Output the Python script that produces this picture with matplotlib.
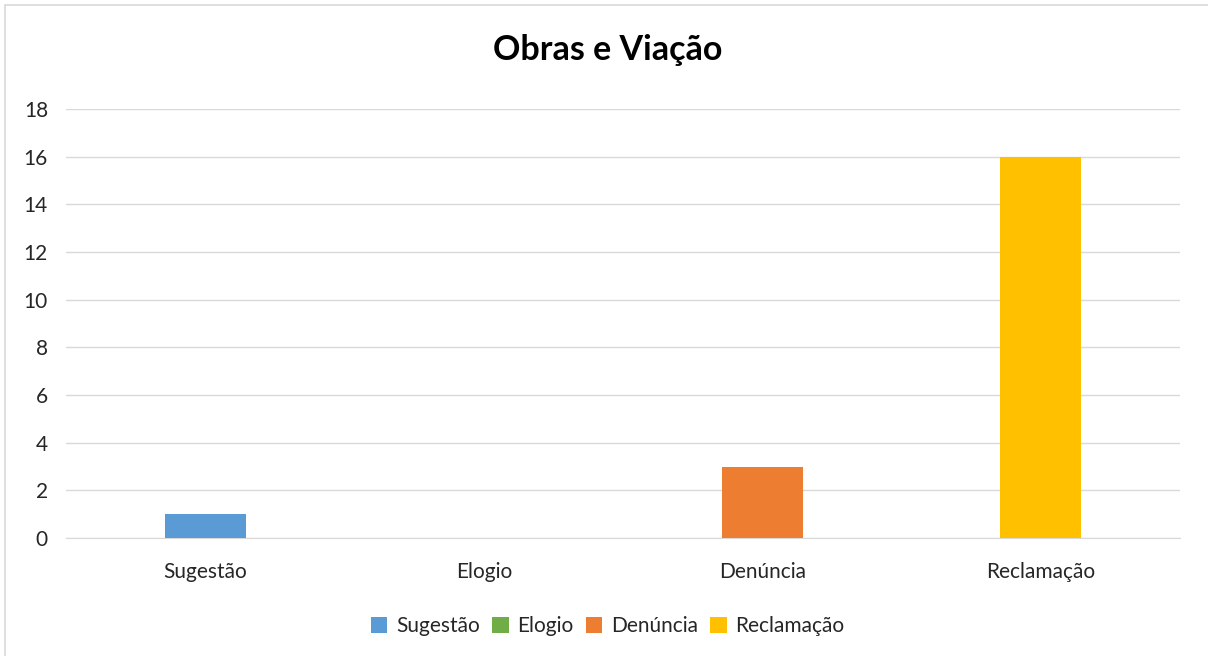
import matplotlib.pyplot as plt
from matplotlib.patches import Rectangle

categories = ["Sugestão", "Elogio", "Denúncia", "Reclamação"]
values = [1, 0, 3, 16]
colors = ["#5B9BD5", "#70AD47", "#ED7D31", "#FFC000"]
yticks = [0, 2, 4, 6, 8, 10, 12, 14, 16, 18]

plt.rcParams['font.family'] = ['Lato', 'DejaVu Sans']

fig = plt.figure(figsize=(12.08, 6.56), dpi=100)
ax = fig.add_axes([66/1208, 1 - 538/656, (1180 - 66)/1208, (538 - 109)/656])

x = range(len(categories))
for i, (cat, val, col) in enumerate(zip(categories, values, colors)):
    ax.bar(i, val, width=0.29, color=col, label=cat, zorder=3)

ax.set_xlim(-0.5, len(categories) - 0.5)
ax.set_ylim(0, 18)
ax.set_yticks(yticks)
ax.set_xticks(list(x))
ax.set_xticklabels(categories)
ax.tick_params(axis='both', length=0, labelsize=15, colors="#262626")
ax.tick_params(axis='x', pad=17)
ax.tick_params(axis='y', pad=13)
ax.grid(axis='y', color="#d9d9d9", linewidth=1, zorder=0)
for s in ["top", "right", "left"]:
    ax.spines[s].set_visible(False)
ax.spines["bottom"].set_color("#d9d9d9")

fig.text(0.503, 1 - 50/656, "Obras e Viação", ha="center", va="center",
         fontsize=24.5, fontweight="bold", color="#000000")

fig.legend(loc="center", bbox_to_anchor=(0.503, 1 - 626/656), ncol=4,
           frameon=False, fontsize=15, handlelength=0.8, handleheight=0.8,
           handletextpad=0.4, columnspacing=0.6, labelcolor="#262626")

fig.patches.append(Rectangle((5/1208, -0.1), 1.2, 1 - 5/656 + 0.1,
                             transform=fig.transFigure, fill=False,
                             edgecolor="#d9d9d9", linewidth=1.2))

fig.savefig("out.png", dpi=100)
